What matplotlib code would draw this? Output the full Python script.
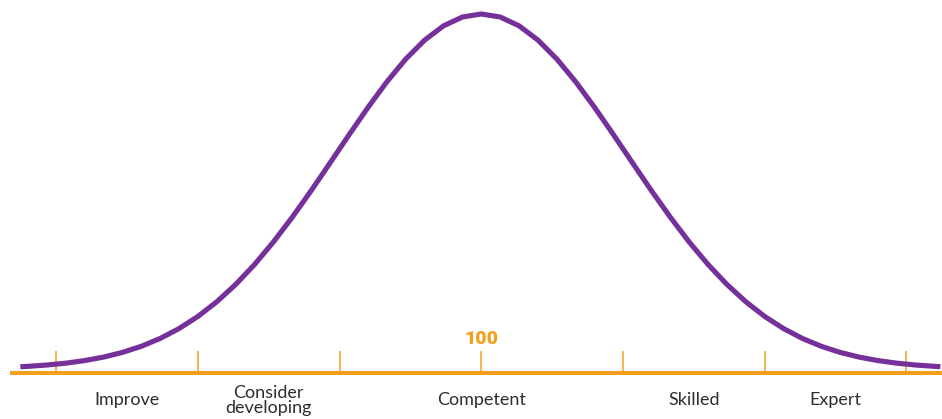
import numpy as np
import matplotlib
matplotlib.use("Agg")
import matplotlib.pyplot as plt

# curve: score vs height (% of peak)
score = [51.2, 52, 54, 56, 58, 60, 62, 64, 66, 68, 70, 72, 74, 76, 78, 80,
         82, 84, 86, 88, 90, 92, 94, 96, 98, 100,
         102, 104, 106, 108, 110, 112, 114, 116, 118, 120, 122, 124, 126,
         128, 130, 132, 134, 136, 138, 140, 142, 144, 146, 148, 148.6]
height = [0.64, 0.75, 1.12, 1.64, 2.37, 3.35, 4.67, 6.39, 8.60, 11.38,
          14.81, 18.94, 23.82, 29.45, 35.80, 42.79, 50.28, 58.09, 65.97,
          73.66, 80.88, 87.30, 92.64, 96.66, 99.15, 100.0,
          99.15, 96.66, 92.64, 87.30, 80.88, 73.66, 65.97, 58.09, 50.28,
          42.79, 35.80, 29.45, 23.82, 18.94, 14.81, 11.38, 8.60, 6.39,
          4.67, 3.35, 2.37, 1.64, 1.12, 0.75, 0.66]

ticks = [55, 70, 85, 100, 115, 130, 145]
bands = ["Improve", "Consider\ndeveloping", "Competent", "Skilled", "Expert"]
band_edges = [(55, 70), (70, 85), (85, 115), (115, 130), (130, 145)]
mean_label = "100"

purple = "#76309A"
orange = "#F2A01C"

plt.rcParams["font.family"] = ["Lato", "DejaVu Sans"]

fig = plt.figure(figsize=(9.42, 4.19), dpi=100)
ax = fig.add_axes([0, 0, 1, 1])
ax.set_xlim(49.05, 148.77)
ax.set_ylim(-14.08, 103.94)
ax.axis("off")

# baseline and ticks
base = -1.0
ax.plot([50.1, 148.77], [base, base], color=orange, lw=2.9,
        solid_capstyle="butt", zorder=1)
ax.vlines(ticks, base, 5.1, color=orange, lw=1.1, zorder=1)

# bell curve
ax.plot(score, height, color=purple, lw=3.7, solid_capstyle="butt",
        solid_joinstyle="round", zorder=2)

ax.text(100, 8.5, mean_label, color=orange, fontsize=14, fontweight="heavy",
        family=["Roboto", "DejaVu Sans"], ha="center", va="center")

for name, (a, b) in zip(bands, band_edges):
    ax.text((a + b) / 2, -8.8, name, color="#2e2e2e", fontsize=13,
            ha="center", va="center", linespacing=0.92)

fig.savefig("out.png", dpi=100, facecolor="white")
